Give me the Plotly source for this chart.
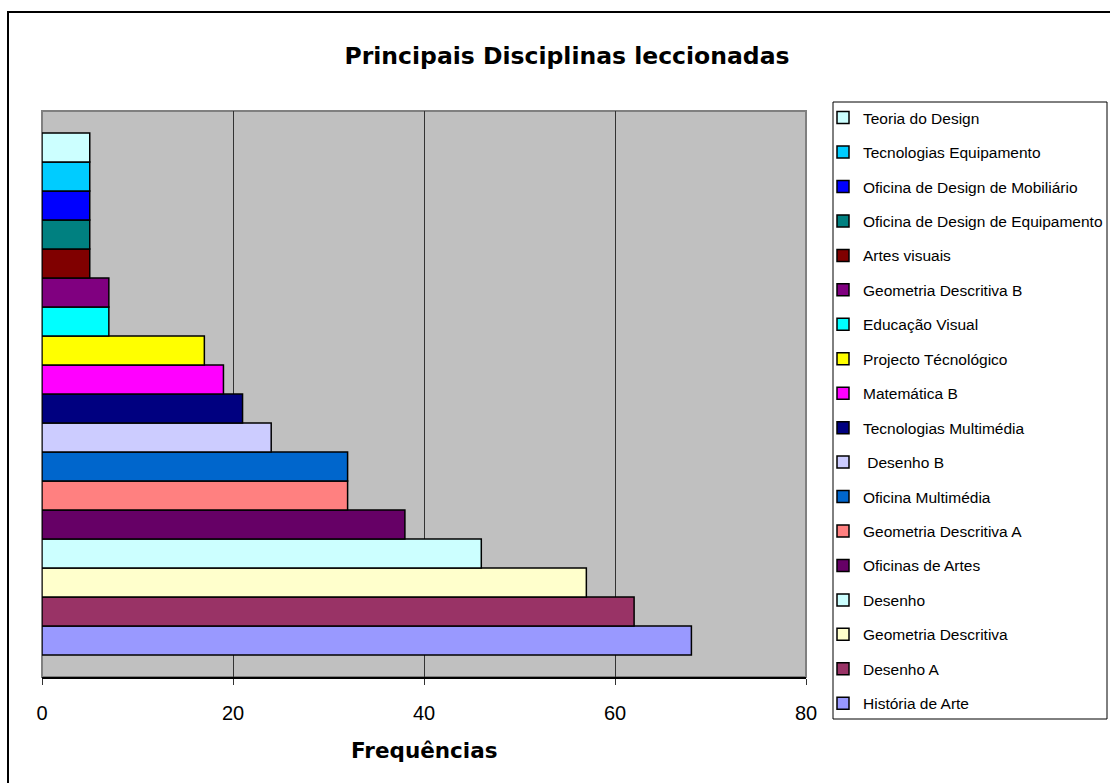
import plotly.graph_objects as go

# Subjects, listed from the largest bar (bottom) upwards
disciplinas = [
    "História de Arte",
    "Desenho A",
    "Geometria Descritiva",
    "Desenho",
    "Oficinas de Artes",
    "Geometria Descritiva A",
    "Oficina Multimédia",
    "\u00a0Desenho B",
    "Tecnologias Multimédia",
    "Matemática B",
    "Projecto Técnológico",
    "Educação Visual",
    "Geometria Descritiva B",
    "Artes visuais",
    "Oficina de Design de Equipamento",
    "Oficina de Design de Mobiliário",
    "Tecnologias Equipamento",
    "Teoria do Design",
]

frequencias = [68, 62, 57, 46, 38, 32, 32, 24, 21, 19, 17, 7, 7, 5, 5, 5, 5, 5]

cores = [
    "#9999FF", "#993366", "#FFFFCC", "#CCFFFF", "#660066", "#FF8080",
    "#0066CC", "#CCCCFF", "#000080", "#FF00FF", "#FFFF00", "#00FFFF",
    "#800080", "#800000", "#008080", "#0000FF", "#00CCFF", "#CCFFFF",
]

x_ticks = [0, 20, 40, 60, 80]

W, H = 1110, 783
L, R, T, B = 42, 304, 111, 106
pw, ph = W - L - R, H - T - B


def px_x(x):
    return (x - L) / pw


def px_y(y):
    return (H - B - y) / ph


n = len(disciplinas)
fig = go.Figure()
for i, (nome, valor, cor) in enumerate(zip(disciplinas, frequencias, cores)):
    fig.add_trace(go.Bar(
        x=[valor],
        y=[""],
        orientation="h",
        name=nome,
        legendgroup=f"g{i}",
        legendrank=n - i,  # top bar first in the legend
        marker=dict(color=cor, line=dict(color="black", width=1.5)),
        hoverinfo="name+x",
    ))

fig.update_layout(
    width=W,
    height=H,
    margin=dict(l=L, r=R, t=T, b=B, pad=0, autoexpand=False),
    paper_bgcolor="white",
    plot_bgcolor="#C0C0C0",
    barmode="group",
    bargap=0.078,
    bargroupgap=0,
    font=dict(family="Liberation Sans, Arial, sans-serif", color="black"),
    title=dict(
        text="<b>Principais Disciplinas leccionadas</b>",
        x=567 / W,
        xanchor="center",
        y=1 - 56 / H,
        yanchor="middle",
        font=dict(family="DejaVu Sans, sans-serif", size=23.5, color="black"),
    ),
    showlegend=True,
    legend=dict(
        traceorder="grouped",
        x=px_x(823),
        xanchor="left",
        y=px_y(101),
        yanchor="top",
        bgcolor="rgba(0,0,0,0)",
        borderwidth=0,
        font=dict(family="Liberation Sans, Arial, sans-serif", size=15.5, color="black"),
        tracegroupgap=11.3,
        maxheight=700,
    ),
    xaxis=dict(
        range=[0, 80],
        tickvals=x_ticks,
        ticktext=[str(t) for t in x_ticks],
        ticks="outside",
        ticklen=6,
        tickcolor="#333333",
        tickfont=dict(size=20, color="black"),
        ticklabelstandoff=11,
        showgrid=True,
        gridcolor="#333333",
        gridwidth=1,
        showline=True,
        linecolor="black",
        linewidth=2,
        zeroline=False,
        fixedrange=True,
    ),
    yaxis=dict(
        showticklabels=False,
        ticks="",
        showgrid=False,
        zeroline=False,
        fixedrange=True,
    ),
    shapes=[
        # plot area frame
        dict(type="rect", xref="paper", yref="paper", x0=0, x1=1, y0=0, y1=1,
             line=dict(color="#808080", width=2), layer="below"),
        # legend frame
        dict(type="rect", xref="paper", yref="paper",
             x0=px_x(833), x1=px_x(1107), y0=px_y(719), y1=px_y(102),
             line=dict(color="black", width=1)),
        # chart frame
        dict(type="rect", xref="paper", yref="paper",
             x0=px_x(8), x1=px_x(1130), y0=px_y(800), y1=px_y(12),
             line=dict(color="black", width=2)),
    ],
    annotations=[
        dict(
            text="<b>Frequências</b>",
            xref="paper", yref="paper",
            x=0.5, y=px_y(750),
            xanchor="center", yanchor="middle",
            showarrow=False,
            font=dict(family="DejaVu Sans, sans-serif", size=21.5, color="black"),
        )
    ],
)

fig.write_html("out.html")
